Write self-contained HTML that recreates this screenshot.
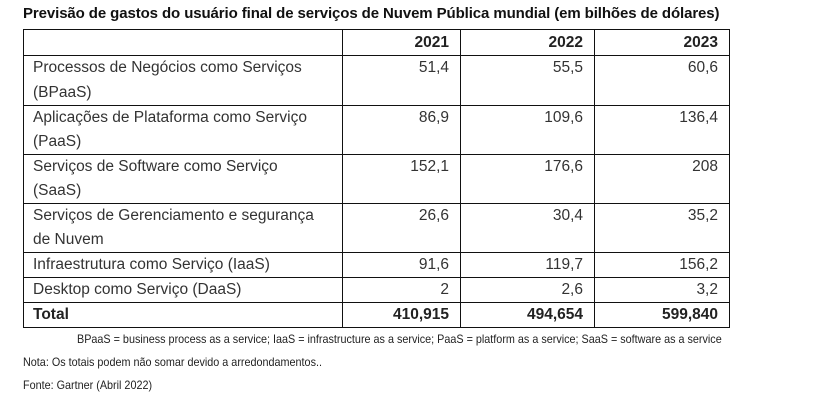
<!DOCTYPE html>
<html><head><meta charset="utf-8"><style>
body{margin:0;width:823px;height:408px;background:#fff;font-family:"Liberation Sans",sans-serif;position:relative;overflow:hidden}
.t{position:absolute;left:23px;top:5px;font-size:15px;font-weight:bold;color:#111;white-space:nowrap;letter-spacing:-0.1px}
table{position:absolute;left:23px;top:29px;border-collapse:collapse;table-layout:fixed;color:#333;font-size:15.5px}
td{border:1.5px solid #111;padding:0 11px 0 9px;vertical-align:top;line-height:24px;overflow:hidden;white-space:nowrap}
td.n{text-align:right}
tr.h td{font-weight:bold;color:#222;height:25px;line-height:25px}
tr.d td{height:48px;line-height:24px}
tr.d1 td{height:49px;line-height:24.5px}
tr.s td{height:24px;line-height:24px}
tr.tot td{font-weight:bold;color:#222;height:24px;line-height:24px}
.f{position:absolute;font-size:12px;color:#222;white-space:nowrap;transform-origin:0 0;transform:scaleX(0.9)}
</style></head><body>
<div class="t">Previsão de gastos do usuário final de serviços de Nuvem Pública mundial (em bilhões de dólares)</div>
<table>
<colgroup><col style="width:319px"><col style="width:118px"><col style="width:134px"><col style="width:135px"></colgroup>
<tr class="h"><td></td><td class="n">2021</td><td class="n">2022</td><td class="n">2023</td></tr>
<tr class="d1"><td>Processos de Negócios como Serviços<br>(BPaaS)</td><td class="n">51,4</td><td class="n">55,5</td><td class="n">60,6</td></tr>
<tr class="d"><td>Aplicações de Plataforma como Serviço<br>(PaaS)</td><td class="n">86,9</td><td class="n">109,6</td><td class="n">136,4</td></tr>
<tr class="d"><td>Serviços de Software como Serviço<br>(SaaS)</td><td class="n">152,1</td><td class="n">176,6</td><td class="n">208</td></tr>
<tr class="d"><td>Serviços de Gerenciamento e segurança<br>de Nuvem</td><td class="n">26,6</td><td class="n">30,4</td><td class="n">35,2</td></tr>
<tr class="s"><td>Infraestrutura como Serviço (IaaS)</td><td class="n">91,6</td><td class="n">119,7</td><td class="n">156,2</td></tr>
<tr class="s"><td>Desktop como Serviço (DaaS)</td><td class="n">2</td><td class="n">2,6</td><td class="n">3,2</td></tr>
<tr class="tot"><td>Total</td><td class="n">410,915</td><td class="n">494,654</td><td class="n">599,840</td></tr>
</table>
<div class="f" style="left:77px;top:332px">BPaaS = business process as a service; IaaS = infrastructure as a service; PaaS = platform as a service; SaaS = software as a service</div>
<div class="f" style="left:23px;top:355px">Nota: Os totais podem não somar devido a arredondamentos..</div>
<div class="f" style="left:23px;top:378px">Fonte: Gartner (Abril 2022)</div>
</body></html>
